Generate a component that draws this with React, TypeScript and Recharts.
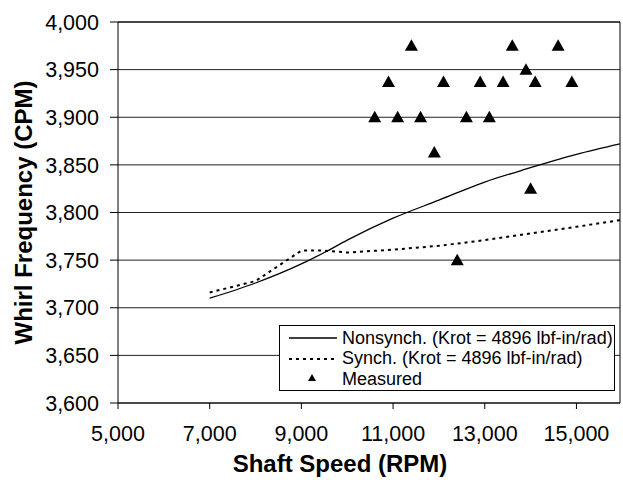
import React from "react";
import {
  ComposedChart, Line, Scatter, XAxis, YAxis, CartesianGrid, Legend, ReferenceLine, Label,
} from "recharts";

const FONT = "'Liberation Sans', Arial, sans-serif";

// predicted curves (RPM vs CPM)
const CURVE_SPEED = [7000, 8000, 9000, 9500, 10000, 11000, 12000, 13000, 14000, 15000, 15950];
const NONSYNCH = [3710, 3726, 3746, 3758, 3771, 3794, 3813, 3832, 3847, 3861, 3872];
const SYNCH = [3716, 3728, 3760, 3760, 3758, 3761, 3765, 3771, 3778, 3785, 3792];

// measured whirl points
const MEASURED_SPEED = [
  10600, 10900, 11100, 11400, 11600, 11900, 12100, 12400, 12600,
  12900, 13100, 13400, 13600, 13900, 14000, 14100, 14600, 14900,
];
const MEASURED_FREQ = [
  3900, 3937, 3900, 3975, 3900, 3863, 3937, 3750, 3900,
  3937, 3900, 3937, 3975, 3950, 3825, 3937, 3975, 3937,
];

const X_TICKS = [5000, 7000, 9000, 11000, 13000, 15000];
const Y_TICKS = [3600, 3650, 3700, 3750, 3800, 3850, 3900, 3950, 4000];
const X_MAX = 15950;

const SERIES_NAMES = [
  "Nonsynch. (Krot = 4896 lbf-in/rad)",
  "Synch. (Krot = 4896 lbf-in/rad)",
  "Measured",
];

const curveData = CURVE_SPEED.map((s, i) => ({ speed: s, nonsynch: NONSYNCH[i], synch: SYNCH[i] }));
const measuredData = MEASURED_SPEED.map((s, i) => ({ speed: s, freq: MEASURED_FREQ[i] }));

const fmt = (v: number) => v.toLocaleString("en-US");

const Triangle = (props: any) => {
  const { cx, cy } = props;
  if (cx == null || cy == null) return null;
  return <polygon points={`${cx},${cy - 6.5} ${cx - 6.5},${cy + 5} ${cx + 6.5},${cy + 5}`} fill="#000" />;
};

function LegendBox() {
  return (
    <div style={{
      border: "1px solid #000", background: "#fff", fontFamily: FONT, fontSize: 18,
      paddingTop: 2, color: "#000", boxSizing: "border-box",
    }}>
      {SERIES_NAMES.map((name, i) => (
        <div key={name} style={{ display: "flex", alignItems: "center", height: 20.5, whiteSpace: "nowrap" }}>
          <svg width={62} height={20} style={{ flex: "none" }}>
            {i === 0 && <line x1={9} y1={10} x2={57} y2={10} stroke="#000" strokeWidth={1.3} />}
            {i === 1 && <line x1={9} y1={10} x2={57} y2={10} stroke="#000" strokeWidth={2} strokeDasharray="3 4" />}
            {i === 2 && <polygon points="32,5 28,12 36,12" fill="#000" />}
          </svg>
          <span>{name}</span>
        </div>
      ))}
    </div>
  );
}

export default function App() {
  return (
    <div style={{ position: "absolute", left: 0, top: 0, background: "#fff" }}>
      <ComposedChart width={623} height={483} margin={{ top: 22, right: 3, left: 0, bottom: 0 }}>
        <CartesianGrid horizontal vertical={false} stroke="#222" />
        <XAxis
          type="number"
          dataKey="speed"
          domain={[5000, X_MAX]}
          ticks={X_TICKS}
          allowDataOverflow
          tickFormatter={fmt}
          height={80}
          tickSize={6}
          tickMargin={17}
          stroke="#000"
          tick={{ fill: "#000", fontSize: 21.5, fontFamily: FONT }}
        >
          <Label
            content={(p: any) => {
              const vb = p.viewBox || { x: 118, y: 403, width: 502 };
              return (
                <text x={vb.x + vb.width / 2 - 29} y={vb.y + 69} textAnchor="middle"
                  fontFamily={FONT} fontSize={24} fontWeight="bold" fill="#000">
                  Shaft Speed (RPM)
                </text>
              );
            }}
          />
        </XAxis>
        <YAxis
          type="number"
          domain={[3600, 4000]}
          ticks={Y_TICKS}
          allowDataOverflow
          tickFormatter={fmt}
          width={118}
          tickSize={8}
          tickMargin={11}
          stroke="#000"
          tick={{ fill: "#000", fontSize: 21.5, fontFamily: FONT }}
        >
          <Label
            content={(p: any) => {
              const vb = p.viewBox || { x: 0, y: 22, height: 381 };
              const cy = vb.y + vb.height / 2;
              return (
                <text x={32} y={cy} textAnchor="middle" transform={`rotate(-90, 32, ${cy})`}
                  fontFamily={FONT} fontSize={24} fontWeight="bold" fill="#000">
                  Whirl Frequency (CPM)
                </text>
              );
            }}
          />
        </YAxis>
        <ReferenceLine x={X_MAX} stroke="#000" />
        <ReferenceLine y={4000} stroke="#000" />
        <Line
          data={curveData}
          dataKey="nonsynch"
          name={SERIES_NAMES[0]}
          type="monotone"
          stroke="#000"
          strokeWidth={1.3}
          dot={false}
          isAnimationActive={false}
        />
        <Line
          data={curveData}
          dataKey="synch"
          name={SERIES_NAMES[1]}
          type="linear"
          stroke="#000"
          strokeWidth={2}
          strokeDasharray="3 4"
          dot={false}
          isAnimationActive={false}
        />
        <Scatter
          data={measuredData}
          dataKey="freq"
          name={SERIES_NAMES[2]}
          shape={Triangle}
          isAnimationActive={false}
        />
        <Legend
          layout="vertical"
          align="center"
          verticalAlign="middle"
          content={() => <LegendBox />}
          wrapperStyle={{ left: 279, top: 325, width: 336 }}
        />
      </ComposedChart>
    </div>
  );
}
